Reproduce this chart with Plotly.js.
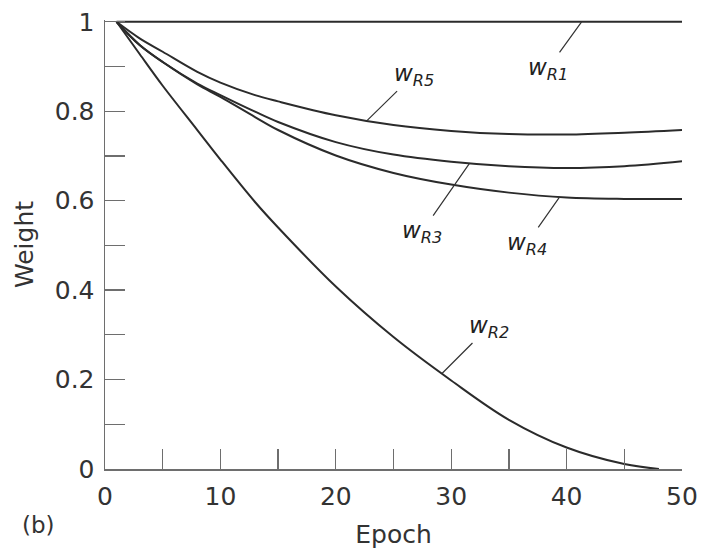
<!DOCTYPE html>
<html>
<head>
<meta charset="utf-8">
<script src="https://cdn.plot.ly/plotly-3.0.1.min.js"></script>
<style>html,body{margin:0;padding:0;background:#fff;}#chart{width:702px;height:555px;}</style>
</head>
<body>
<div id="chart"></div>
<script>
// Data
var epochs   = [1, 3, 5, 8, 10, 13, 15, 20, 25, 30, 35, 40, 45, 50];
var wR1      = [1, 1, 1, 1, 1, 1, 1, 1, 1, 1, 1, 1, 1, 1];
var wR5      = [1, 0.963, 0.933, 0.888, 0.864, 0.836, 0.822, 0.791, 0.769, 0.756, 0.749, 0.748, 0.752, 0.758];
var wR3      = [1, 0.948, 0.910, 0.862, 0.836, 0.799, 0.776, 0.731, 0.703, 0.687, 0.677, 0.673, 0.677, 0.688];
var wR4      = [1, 0.948, 0.910, 0.860, 0.832, 0.787, 0.758, 0.701, 0.662, 0.636, 0.618, 0.607, 0.604, 0.604];
var epochsR2 = [1, 3, 5, 8, 10, 13, 15, 20, 25, 30, 35, 40, 45, 48];
var wR2      = [1, 0.928, 0.857, 0.758, 0.692, 0.597, 0.540, 0.408, 0.295, 0.198, 0.110, 0.048, 0.011, 0];

var seriesNames = ['R1', 'R2', 'R3', 'R4', 'R5'];
var xTickVals = [0, 10, 20, 30, 40, 50];
var yTickVals = [0, 0.2, 0.4, 0.6, 0.8, 1];

// label anchor epochs and pixel offsets of the label text
var labelEpoch = {R1: 41.3, R2: 29.2, R3: 31.6, R4: 39.4, R5: 22.7};
var labelOff   = {R1: [-34, 47], R2: [47, -47], R3: [-48, 69], R4: [-33, 47], R5: [47, -46]};

var lineColor = '#2b2b2b';
var axisColor = '#6e6e6e';
var fontFam = '"DejaVu Sans", Verdana, sans-serif';

function mk(x, y) {
  return {x: x, y: y, type: 'scatter', mode: 'lines',
          line: {color: lineColor, width: 2, shape: 'spline', smoothing: 1},
          hoverinfo: 'skip', showlegend: false};
}
var seriesData = {
  R1: [epochs, wR1], R2: [epochsR2, wR2], R3: [epochs, wR3], R4: [epochs, wR4], R5: [epochs, wR5]
};
var traces = seriesNames.map(function (n) { return mk(seriesData[n][0], seriesData[n][1]); });

function interp(xs, ys, x) {
  for (var i = 0; i < xs.length - 1; i++) {
    if (x >= xs[i] && x <= xs[i + 1]) {
      var t = (x - xs[i]) / (xs[i + 1] - xs[i]);
      return ys[i] + t * (ys[i + 1] - ys[i]);
    }
  }
  return ys[ys.length - 1];
}

var annotations = seriesNames.map(function (n) {
  var xv = labelEpoch[n];
  return {
    x: xv, y: interp(seriesData[n][0], seriesData[n][1], xv), xref: 'x', yref: 'y',
    text: '<i>w</i><i><sub>' + n + '</sub></i>',
    showarrow: true, arrowhead: 0, arrowwidth: 1.2, arrowcolor: '#333',
    ax: labelOff[n][0], ay: labelOff[n][1],
    font: {family: fontFam, size: 23, color: '#222'}
  };
});
annotations.push({
  x: -0.148, y: -0.125, xref: 'paper', yref: 'paper', text: '(b)', showarrow: false,
  xanchor: 'left', yanchor: 'middle',
  font: {family: fontFam, size: 23, color: '#333'}
});

var layout = {
  width: 702, height: 555,
  margin: {l: 105, r: 20, t: 20, b: 86},
  paper_bgcolor: '#fff', plot_bgcolor: '#fff',
  font: {family: fontFam, size: 24, color: '#333'},
  xaxis: {
    range: [0, 50], showgrid: false, zeroline: false,
    showline: true, linecolor: axisColor, linewidth: 1.5,
    tickmode: 'array', tickvals: xTickVals,
    ticks: 'inside', ticklen: 20, tickwidth: 1.3, tickcolor: axisColor,
    minor: {dtick: 5, tick0: 0, ticks: 'inside', ticklen: 20, tickwidth: 1.3, tickcolor: axisColor, showgrid: false},
    tickfont: {family: fontFam, size: 25, color: '#333'},
    ticklabelstandoff: 4,
    title: {text: 'Epoch', font: {family: fontFam, size: 25, color: '#333'}, standoff: 16}
  },
  yaxis: {
    range: [0, 1.004], showgrid: false, zeroline: false,
    showline: true, linecolor: axisColor, linewidth: 1.5,
    tickmode: 'array', tickvals: yTickVals,
    ticks: 'inside', ticklen: 20, tickwidth: 1.3, tickcolor: axisColor,
    minor: {dtick: 0.1, tick0: 0, ticks: 'inside', ticklen: 20, tickwidth: 1.3, tickcolor: axisColor, showgrid: false},
    tickfont: {family: fontFam, size: 25, color: '#333'},
    ticklabelstandoff: 4,
    title: {text: 'Weight', font: {family: fontFam, size: 25, color: '#333'}, standoff: 14}
  },
  annotations: annotations
};

Plotly.newPlot('chart', traces, layout, {displayModeBar: false, staticPlot: true});
</script>
</body>
</html>
